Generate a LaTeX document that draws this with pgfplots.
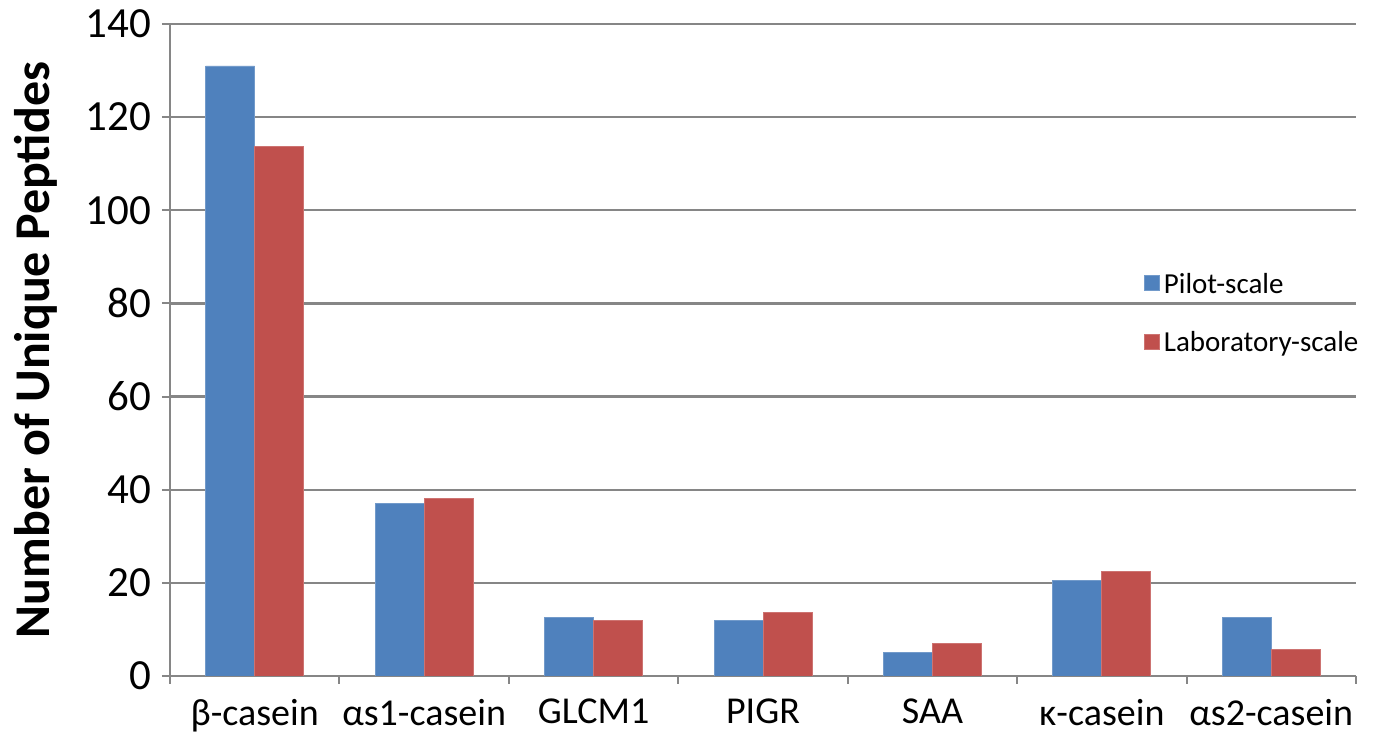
\documentclass[border=0pt]{standalone}
\usepackage{pgfplots}
\pgfplotsset{compat=1.18}
\usepackage{fontspec}
\setmainfont{Carlito}
\definecolor{pilot}{HTML}{4F81BD}
\definecolor{lab}{HTML}{C0504D}
\definecolor{axgray}{HTML}{868686}
\begin{document}
\begin{tikzpicture}
\begin{axis}[
  at={(0,0)}, anchor=south west,
  scale only axis, width=593pt, height=326pt,
  ybar=0pt, bar width=24.5pt,
  xmin=-0.5, xmax=6.5, ymin=0, ymax=140,
  ytick={0,20,...,140},
  xtick={0,...,6},
  xticklabels={β-casein, αs1-casein, GLCM1, PIGR, SAA, κ-casein, αs2-casein},
  minor xtick={-0.5,0.5,...,6.5},
  major x tick style={draw=none},
  minor x tick style={draw=axgray, line width=1pt},
  y tick style={draw=axgray, line width=1pt},
  tick align=outside,
  major tick length=4pt, minor tick length=4pt,
  axis x line*=bottom, axis y line*=left,
  axis line style={draw=axgray, line width=1pt, -},
  ymajorgrids, major grid style={draw=axgray, line width=1.1pt},
  /pgf/number format/assume math mode=true,
  xticklabel style={font=\fontsize{19}{21}\selectfont, yshift=-4pt},
  yticklabel style={font=\fontsize{21.5}{23}\selectfont, xshift=-2pt},
  ylabel={\textbf{Number of Unique Peptides}},
  ylabel style={font=\fontsize{25}{28}\selectfont, at={(axis description cs:-0.113,0.5)}, anchor=center},
  legend style={at={(axis description cs:0.821,0.625)}, anchor=north west, draw=none, fill=none,
    font=\fontsize{14.5}{16}\selectfont, row sep=13.5pt, inner sep=0pt,
    nodes={inner sep=2pt}},
  legend cell align=left,
  legend image code/.code={\fill[#1] (-2pt,-3.2pt) rectangle (5.5pt,4.3pt);},
]
\addplot[fill=pilot, draw=pilot!80!white, line width=0.4pt] coordinates {(0,131) (1,37) (2,12.5) (3,12) (4,5) (5,20.6) (6,12.5)};
\addplot[fill=lab, draw=lab!80!white, line width=0.4pt] coordinates {(0,113.8) (1,38.1) (2,11.9) (3,13.7) (4,6.9) (5,22.5) (6,5.7)};
\legend{Pilot-scale, Laboratory-scale}
\end{axis}
\pgfresetboundingbox
\path (-85pt,-30.5pt) rectangle (602pt,338pt);
\end{tikzpicture}
\end{document}
